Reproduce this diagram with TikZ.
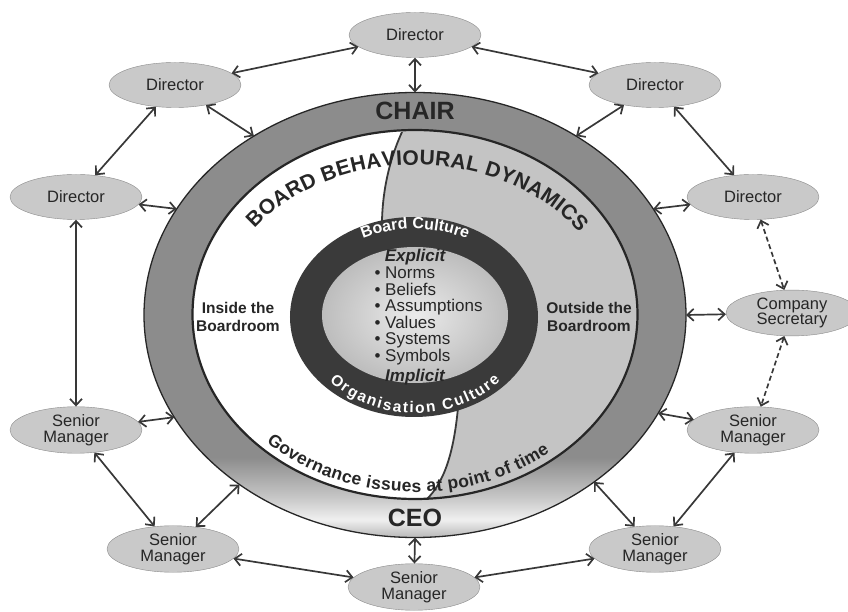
\documentclass[tikz,border=0pt]{standalone}
\usepackage{fontspec}
\setmainfont{Liberation Sans}
\usetikzlibrary{shapes.geometric,arrows.meta,decorations.text}

\definecolor{ringgray}{HTML}{8C8C8C}
\definecolor{coredark}{HTML}{3A3A3A}
\definecolor{sidegray}{HTML}{C4C4C4}
\definecolor{nodefill}{HTML}{C9C9C9}
\definecolor{nodeedge}{HTML}{8A8A8A}
\definecolor{linkdark}{HTML}{383838}
\definecolor{inkdark}{HTML}{262626}

% band gets lighter towards the CEO end
\pgfdeclareverticalshading{ceofade}{100bp}{color(0bp)=(black!28); color(25bp)=(black!28); color(27bp)=(black!6); color(29.5bp)=(black!22); color(34bp)=(ringgray); color(100bp)=(ringgray)}

\tikzset{
	member/.style={ellipse, draw=nodeedge, fill=nodefill, minimum width=132pt, minimum height=45pt, inner sep=1pt, align=center, text=inkdark, font=\fontsize{16.5}{15.5}\selectfont},
	link/.style={<->, draw=linkdark, line width=1.7pt},
	seclink/.style={link, dash pattern=on 5pt off 3pt},
	sidelabel/.style={font=\fontsize{15.5}{18.5}\selectfont\bfseries, align=center, text=inkdark},
	rolelabel/.style={font=\fontsize{25}{25}\selectfont\bfseries, text=inkdark}
}

\begin{document}
\begin{tikzpicture}[x=1pt, y=1pt, >={Straight Barb[length=6.5pt,width=12pt]}]
	\useasboundingbox (-415,-297) rectangle (433,315);
	\clip (-415,-297) rectangle (433,315);

	% chair / ceo band
	\shade[shading=ceofade] (0,0) ellipse[x radius=271, y radius=222.5];
	\fill[white] (0,0.5) ellipse[x radius=222.5, y radius=184.5];
	\begin{scope}
		\clip (0,0.5) ellipse[x radius=222.5, y radius=184.5];
		\fill[sidegray] (-13,183) .. controls (-28,150) and (-34,115) .. (-33,80) -- (44,-80) .. controls (40,-140) and (28,-168) .. (12,-184) -- (12,-240) -- (240,-240) -- (240,240) -- (-13,240) -- cycle;
	\end{scope}
	\draw[linkdark, line width=1.8pt] (-13,183) .. controls (-28,150) and (-34,115) .. (-33,80);
	\draw[linkdark, line width=1.8pt] (44,-80) .. controls (40,-140) and (28,-168) .. (12,-184);
	\draw[inkdark, line width=1.3pt] (0,0) ellipse[x radius=271, y radius=222.5];
	\draw[inkdark, line width=2.2pt] (0,0.5) ellipse[x radius=222.5, y radius=184.5];
	\node[ellipse, minimum width=542pt, minimum height=445pt, inner sep=0pt, outer sep=0pt] (ring) at (0,0) {};

	% culture core
	\fill[coredark] (-1,-2) ellipse[x radius=124, y radius=100];
	\shade[inner color=black!8, outer color=black!26] (0,0) ellipse[x radius=93, y radius=68];

	\node[rolelabel] (chair) at (0,204) {CHAIR};
	\node[rolelabel] (ceo) at (0,-203) {CEO};
	\node[sidelabel] (inside) at (-177,-2) {Inside the\\Boardroom};
	\node[sidelabel] (outside) at (174,-2) {Outside the\\Boardroom};

	\node[font=\fontsize{17}{17}\selectfont\bfseries\itshape, text=inkdark] (explicit) at (0,58) {Explicit};
	\node[font=\fontsize{17}{16.6}\selectfont, align=left, text=inkdark, anchor=west] (norms) at (-44,-1) {\textbullet\ Norms\\\textbullet\ Beliefs\\\textbullet\ Assumptions\\\textbullet\ Values\\\textbullet\ Systems\\\textbullet\ Symbols};
	\node[font=\fontsize{17}{17}\selectfont\bfseries\itshape, text=inkdark] (implicit) at (0,-62) {Implicit};

	% curved captions
	\path[decorate, decoration={text along path, text align=fit to path, text color=inkdark,
		text={|\fontsize{21}{21}\selectfont\bfseries|BOARD BEHAVIOURAL DYNAMICS}}]
		(145:196 and 150) arc[start angle=145, end angle=33, x radius=196, y radius=150];
	\path[decorate, decoration={text along path, text align=fit to path, text color=inkdark,
		text={|\fontsize{17.5}{17.5}\selectfont\bfseries|Governance issues at point of time}}]
		(226:214 and 177) arc[start angle=226, end angle=309, x radius=214, y radius=177];
	\path[decorate, decoration={text along path, text align=center, text color=white,
		text={|\fontsize{16}{16}\selectfont\bfseries|Board Culture}}]
		([shift={(0,-2)}]140:113 and 88) arc[start angle=140, end angle=40, x radius=113, y radius=88];
	\path[decorate, decoration={text along path, text align=fit to path, text color=white,
		text={|\fontsize{15.5}{15.5}\selectfont\bfseries|Organisation Culture}}]
		([shift={(0,-2)}]222:115 and 96) arc[start angle=222, end angle=318, x radius=115, y radius=96];

	% people round the board
	\node[member] (dtop) at (0,280) {Director};
	\node[member] (dul) at (-240,230) {Director};
	\node[member] (dur) at (240,230) {Director};
	\node[member] (dl) at (-339,118) {Director};
	\node[member] (dr) at (338,118) {Director};
	\node[member] (cs) at (377,2) {Company\\Secretary};
	\node[member] (sml) at (-339,-115) {Senior\\Manager};
	\node[member] (smr) at (338,-115) {Senior\\Manager};
	\node[member] (smll) at (-242,-234) {Senior\\Manager};
	\node[member] (smlr) at (240,-234) {Senior\\Manager};
	\node[member] (smb) at (-1,-272) {Senior\\Manager};

	\draw[link] (dtop) -- (dul);
	\draw[link] (dtop) -- (dur);
	\draw[link] (dul) -- (dl);
	\draw[link] (dur) -- (dr);
	\draw[link] (dl) -- (sml);
	\draw[link] (sml) -- (smll);
	\draw[link] (smll) -- (smb);
	\draw[link] (smb) -- (smlr);
	\draw[link] (smlr) -- (smr);
	\draw[seclink] (dr) -- (cs);
	\draw[seclink] (cs) -- (smr);

	\draw[link] (dtop) -- (ring.90);
	\draw[link] (dul) -- (ring.132);
	\draw[link] (dur) -- (ring.48);
	\draw[link] (dl) -- (ring.156);
	\draw[link] (dr) -- (ring.24);
	\draw[link] (cs) -- (ring.0);
	\draw[link] (sml) -- (ring.203);
	\draw[link] (smr) -- (ring.338);
	\draw[link] (smll) -- (ring.224);
	\draw[link] (smlr) -- (ring.317);
	\draw[link] (smb) -- (ring.270);
\end{tikzpicture}
\end{document}
